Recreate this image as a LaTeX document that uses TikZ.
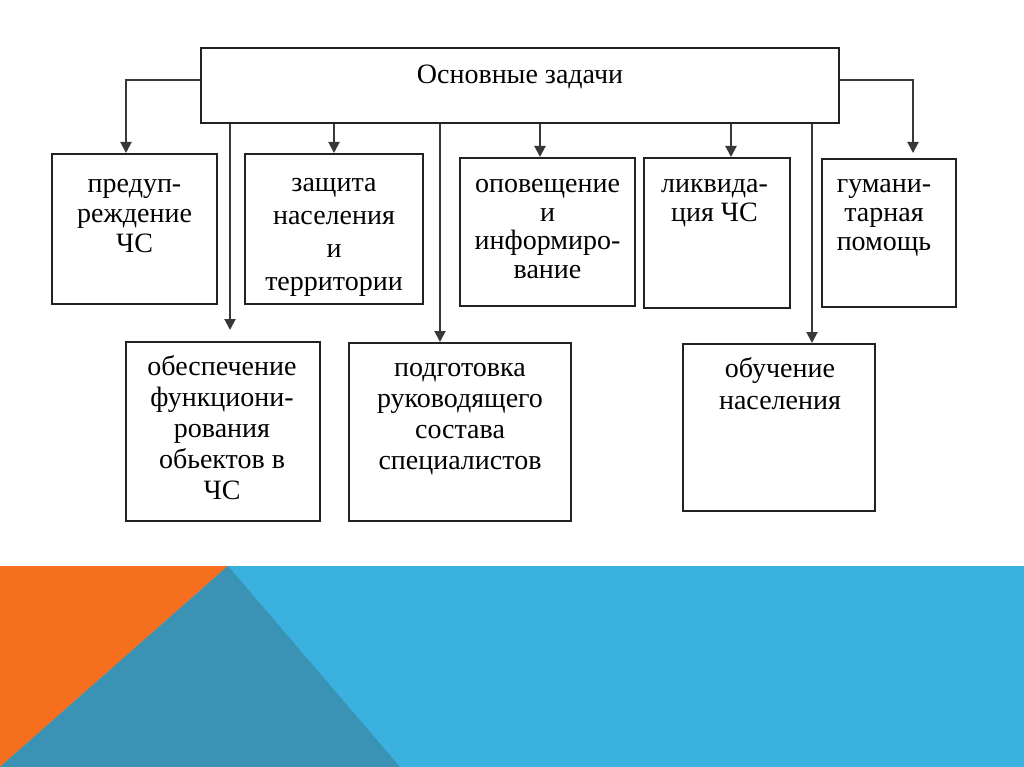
\documentclass[tikz,border=0pt]{standalone}
\usepackage{fontspec}
\setmainfont{Liberation Serif}
\usetikzlibrary{arrows.meta}
\definecolor{orng}{HTML}{F66F1E}
\definecolor{tealc}{HTML}{3A93B4}
\definecolor{lblue}{HTML}{3BB1DF}
\definecolor{linec}{HTML}{383838}
\definecolor{boxc}{HTML}{222222}
\tikzset{
  box/.style={draw=boxc, line width=2pt, fill=white, inner sep=0pt, anchor=north west},
  txt/.style={font=\fontsize{28}{30}\selectfont, align=center, inner sep=0pt, anchor=north, text=black},
  arr/.style={draw=linec, line width=2pt, -{Triangle[width=11pt,length=11pt]}},
  ln/.style={draw=linec, line width=2pt}
}
\begin{document}
\begin{tikzpicture}[x=1pt,y=-1pt]
\useasboundingbox (0,0) rectangle (1024,767);
\fill[white] (0,0) rectangle (1024,767);
\fill[lblue] (0,566) rectangle (1024,767);
\fill[orng] (0,566) -- (228,566) -- (0,767) -- cycle;
\fill[tealc] (228,566) -- (400,767) -- (0,767) -- cycle;

% boxes
\node[box, minimum width=638pt, minimum height=75pt] (m) at (200,47) {};
\node[box, minimum width=165pt, minimum height=150pt] (b1) at (51,153) {};
\node[box, minimum width=178pt, minimum height=150pt] (b2) at (244,153) {};
\node[box, minimum width=175pt, minimum height=148pt] (b3) at (459,157) {};
\node[box, minimum width=146pt, minimum height=150pt] (b4) at (643,157) {};
\node[box, minimum width=134pt, minimum height=148pt] (b5) at (821,158) {};
\node[box, minimum width=194pt, minimum height=179pt] (c1) at (125,341) {};
\node[box, minimum width=222pt, minimum height=178pt] (c2) at (348,342) {};
\node[box, minimum width=192pt, minimum height=167pt] (c3) at (682,343) {};

% texts
\node[font=\fontsize{28}{30}\selectfont, inner sep=0pt, anchor=base] (mt) at ([yshift=1.5pt]m.center) {Основные задачи};
\node[txt] (t1) at ([yshift=-18pt]b1.north) {\strut предуп-\\реждение\\ЧС};
\node[txt, font=\fontsize{28}{33}\selectfont] (t2) at ([yshift=-15.5pt]b2.north) {\strut защита\\населения\\и\\территории};
\node[txt, font=\fontsize{28}{28.5}\selectfont] (t3) at ([yshift=-15.8pt]b3.north) {\strut оповещение\\и\\информиро-\\вание};
\node[txt, font=\fontsize{28}{29}\selectfont] (t4) at ([xshift=-2.5pt,yshift=-14.7pt]b4.north) {\strut ликвида-\\ция ЧС};
\node[txt, font=\fontsize{28}{29}\selectfont] (t5) at ([xshift=-5pt,yshift=-13.7pt]b5.north) {\strut гумани-\\тарная\\помощь};
\node[txt, font=\fontsize{28}{31}\selectfont] (u1) at ([xshift=-1pt,yshift=-12.5pt]c1.north) {\strut обеспечение\\функциони-\\рования\\обьектов в\\ЧС};
\node[txt, font=\fontsize{28}{31}\selectfont] (u2) at ([yshift=-12.3pt]c2.north) {\strut подготовка\\руководящего\\состава\\специалистов};
\node[txt, font=\fontsize{28}{32}\selectfont] (u3) at ([xshift=1pt,yshift=-11.6pt]c3.north) {\strut обучение\\населения};

% arrow targets
\coordinate (a1) at ([xshift=-8.5pt]b1.north);
\coordinate (a2) at (b2.north);
\coordinate (a3) at ([xshift=-7.5pt]b3.north);
\coordinate (a4) at ([xshift=14pt]b4.north);
\coordinate (a5) at ([xshift=24pt,yshift=5pt]b5.north);
\coordinate (d1) at ([xshift=7pt,yshift=11pt]c1.north);
\coordinate (d2) at ([xshift=-20pt]c2.north);
\coordinate (d3) at ([xshift=33pt]c3.north);

% connectors
\draw[arr] ([yshift=5.5pt]m.west) -| (a1);
\draw[arr] ([yshift=5.5pt]m.east) -| (a5);
\draw[arr] (a2 |- m.south) -- (a2);
\draw[arr] (a3 |- m.south) -- (a3);
\draw[arr] (a4 |- m.south) -- (a4);
\draw[arr] (d1 |- m.south) -- (d1);
\draw[arr] (d2 |- m.south) -- (d2);
\draw[arr] (d3 |- m.south) -- (d3);
\end{tikzpicture}
\end{document}
